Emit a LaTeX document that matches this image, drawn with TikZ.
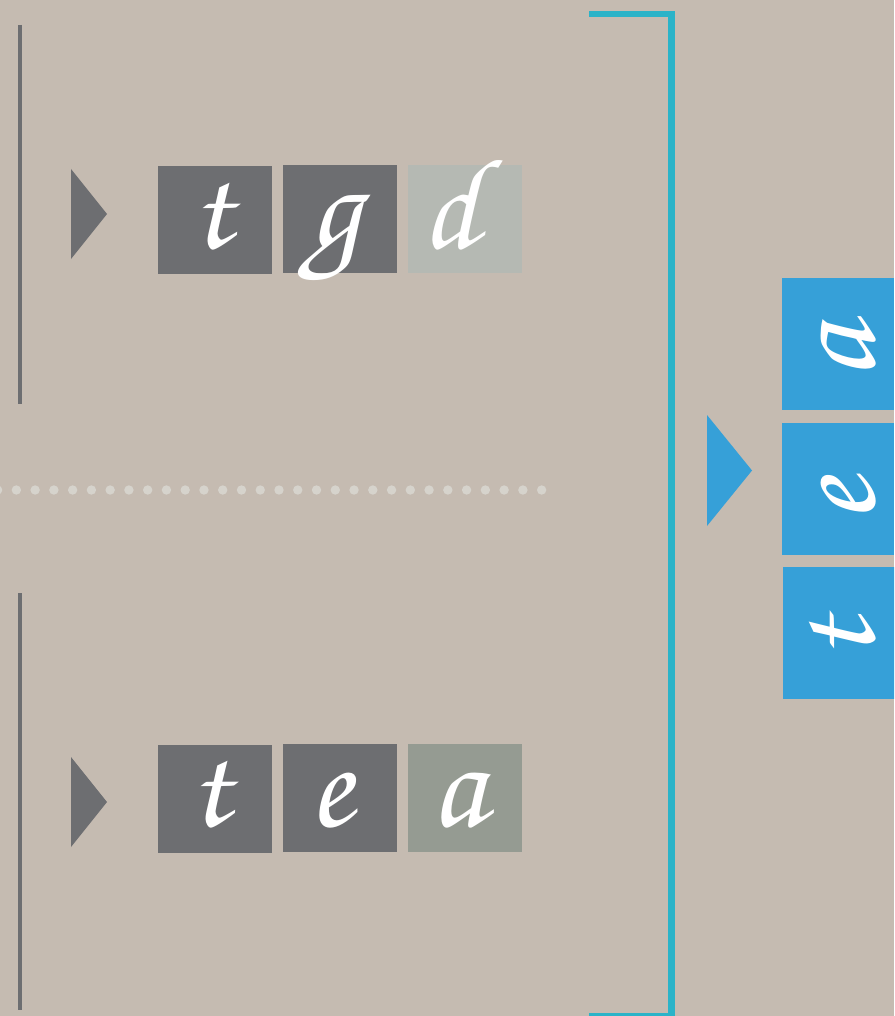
\documentclass[tikz,border=0pt]{standalone}
\usepackage{tikz}
\definecolor{bgc}{HTML}{C5BBB1}
\definecolor{darkg}{HTML}{6D6E71}
\definecolor{lightg}{HTML}{B5B9B3}
\definecolor{greeng}{HTML}{959B92}
\definecolor{cyanc}{HTML}{2BB3C8}
\definecolor{bluec}{HTML}{36A0D8}
\definecolor{dotc}{HTML}{D6D3CC}
\newcommand\scrfont{\fontencoding{OT1}\fontfamily{pzc}\fontseries{mb}\fontshape{it}\fontsize{130}{130}\selectfont}
\tikzset{
  tile/.style={inner sep=0pt, outer sep=0pt, minimum width=114pt, minimum height=108pt},
  bluetile/.style={inner sep=0pt, outer sep=0pt, minimum width=112pt, minimum height=132pt, fill=bluec},
  letter/.style={inner sep=0pt, outer sep=0pt, text=white, font=\scrfont, anchor=base, text depth=0pt},
  sideline/.style={draw=darkg, line width=4pt},
  bracket/.style={draw=cyanc, line width=6.5pt},
}
\begin{document}
\begin{tikzpicture}[x=1pt,y=-1pt]
\useasboundingbox (0,0) rectangle (894,1016);
\clip (0,0) rectangle (894,1016);
\fill[bgc] (0,0) rectangle (894,1016);

% left vertical lines
\coordinate (l1a) at (20,25); \coordinate (l1b) at (20,404);
\coordinate (l2a) at (20,593); \coordinate (l2b) at (20,1010);
\draw[sideline] (l1a) -- (l1b);
\draw[sideline] (l2a) -- (l2b);

% gray triangles
\fill[darkg] (71,169) -- (107,214) -- (71,259) -- cycle;
\fill[darkg] (71,757) -- (107,802) -- (71,847) -- cycle;

% top row tiles
\node[tile, fill=darkg] (ta) at (214.5,220) {};
\node[tile, fill=darkg] (tb) at (339.5,219) {};
\node[tile, fill=lightg] (tc) at (464.5,219) {};
\node[letter] (tal) at (211,248) {t};
\node[letter] (tbl) at (334,248) {g};
\node[letter] (tcl) at (450,248) {d};

% bottom row tiles
\node[tile, fill=darkg] (ba) at (214.5,798.5) {};
\node[tile, fill=darkg] (bb) at (339.5,798) {};
\node[tile, fill=greeng] (bc) at (464.5,798) {};
\node[letter] (bal) at (209,826) {t};
\node[letter] (bbl) at (331,826) {e};
\node[letter] (bcl) at (458,826) {a};

% dotted separator
\foreach \i in {0,...,29} {
  \fill[dotc] ({-2.4+\i*18.76},490) circle (4.7);
}

% cyan bracket
\coordinate (c1) at (589,14);
\coordinate (c2) at (671.5,14);
\coordinate (c3) at (671.5,1016);
\coordinate (c4) at (589,1016);
\draw[bracket] (c1) -- (c2) -- (c3) -- (c4);

% blue triangle
\fill[bluec] (707,415) -- (752,470.5) -- (707,526) -- cycle;

% blue tiles (rotated letters)
\node[bluetile] (ra) at (838,344) {};
\node[bluetile] (re) at (838,489) {};
\node[bluetile] (rt) at (838.5,633) {};
\node[letter, rotate=90] (ral) at (874,353) {a};
\node[letter, rotate=90] (rel) at (874,501) {e};
\node[letter, rotate=90] (rtl) at (874,641) {t};
\end{tikzpicture}
\end{document}
